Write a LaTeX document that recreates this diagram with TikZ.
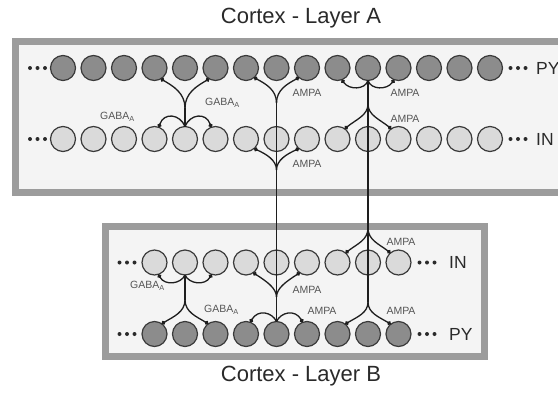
\documentclass[tikz,border=0pt]{standalone}
\usepackage{fontspec}
\setmainfont{Liberation Sans}
\usetikzlibrary{arrows.meta}
\definecolor{pyfill}{HTML}{8C8C8C}
\definecolor{infill}{HTML}{DADADA}
\definecolor{cellline}{HTML}{3A3A3A}
\definecolor{boxline}{HTML}{9C9C9C}
\definecolor{boxfill}{HTML}{F4F4F4}
\definecolor{axcol}{HTML}{1E1E1E}
\definecolor{lblcol}{HTML}{555555}
\definecolor{txtcol}{HTML}{2A2A2A}
\begin{document}
\begin{tikzpicture}[x=1pt,y=-1pt,
  cell/.style={circle,draw=cellline,line width=1.2pt,minimum size=25pt,inner sep=0pt,outer sep=0pt},
  pycell/.style={cell,fill=pyfill},
  incell/.style={cell,fill=infill},
  layerbox/.style={draw=boxline,fill=boxfill,line width=7pt},
  axon/.style={draw=axcol,line width=1.3pt},
  syn/.style={axon,-{Circle[length=4pt,width=4pt]}},
  lbl/.style={font=\fontsize{10.5}{12}\selectfont,text=lblcol,inner sep=0pt},
  rowlbl/.style={font=\fontsize{17.5}{20}\selectfont,text=txtcol,inner sep=0pt,anchor=west},
  ttl/.style={font=\fontsize{22}{26}\selectfont,text=txtcol,inner sep=0pt},
  ell/.style={fill=txtcol}
]
\clip (0,0) rectangle (558,392);
\fill[white] (0,0) rectangle (558,392);
% layer boxes
\draw[layerbox] (15.5,41.5) rectangle (575,192);
\draw[layerbox] (105,226.5) rectangle (484,356.5);
% titles
\node[ttl] (titleA) at (301,18) {Cortex - Layer A};
\node[ttl] (titleB) at (301,376) {Cortex - Layer B};
% cells
\foreach \i in {0,...,14} {
  \node[pycell] (tp\i) at ({63+30.5*\i},68) {};
  \node[incell] (ti\i) at ({63+30.5*\i},139) {};
}
\foreach \i in {3,...,11} {
  \node[incell] (bi\i) at ({63+30.5*\i},262.5) {};
  \node[pycell] (bp\i) at ({63+30.5*\i},334) {};
}
% ellipses
\foreach \y in {68,139} {
  \foreach \x in {30,37.5,45,510.5,518,525.5} { \fill[ell] (\x,\y) circle (2pt); }
}
\foreach \y in {262.5,334} {
  \foreach \x in {119.5,127,134.5,419.5,427,434.5} { \fill[ell] (\x,\y) circle (2pt); }
}
% row labels
\node[rowlbl] (lpyA) at (536,68) {PY};
\node[rowlbl] (linA) at (536,139) {IN};
\node[rowlbl] (linB) at (449,262.5) {IN};
\node[rowlbl] (lpyB) at (449,334) {PY};
% split points
\coordinate (gA) at (185,108);
\coordinate (a1t) at (276.5,103);
\coordinate (a1i) at (276.5,170);
\coordinate (a1b) at (276.5,297);
\coordinate (a2t) at (368,104);
\coordinate (a2u) at (368,228);
\coordinate (a2d) at (368,302);
\coordinate (gB) at (185,300);
% top GABA (IN -> PY, IN)
\draw[axon] (ti4.north) -- (gA);
\draw[syn] (gA) .. controls (185,93) and (173,86) .. (tp3.-60);
\draw[syn] (gA) .. controls (185,93) and (197,86) .. (tp5.-120);
\draw[syn] (ti4.north) .. controls (180,114) and (164,112) .. (ti3.70);
\draw[syn] (ti4.north) .. controls (190,114) and (206,112) .. (ti5.110);
% axon 1 (bottom PY7 -> top)
\draw[axon] (a1t) -- (bp7.north);
\draw[syn] (a1t) .. controls (276.5,90) and (266,84) .. (tp6.-50);
\draw[syn] (a1t) .. controls (276.5,90) and (287,84) .. (tp8.-130);
\draw[syn] (a1i) .. controls (276.5,160) and (266,154) .. (ti6.-50);
\draw[syn] (a1i) .. controls (276.5,160) and (287,154) .. (ti8.-130);
\draw[syn] (a1b) .. controls (276.5,288) and (266,281) .. (bi6.-55);
\draw[syn] (a1b) .. controls (276.5,288) and (287,281) .. (bi8.-125);
\draw[syn] (bp7.north) .. controls (272,312) and (258,309) .. (bp6.70);
\draw[syn] (bp7.north) .. controls (281,312) and (295,309) .. (bp8.110);
% axon 2 (top PY10 -> bottom)
\draw[axon] (tp10.south) -- (a2d);
\draw[syn] (tp10.south) .. controls (365,90) and (349,90) .. (tp9.-70);
\draw[syn] (tp10.south) .. controls (371,90) and (387,90) .. (tp11.-110);
\draw[syn] (a2t) .. controls (368,115) and (357,119) .. (ti9.55);
\draw[syn] (a2t) .. controls (368,115) and (379,119) .. (ti11.125);
\draw[syn] (a2u) .. controls (368,240) and (357,244) .. (bi9.50);
\draw[syn] (a2u) .. controls (368,240) and (379,244) .. (bi11.130);
\draw[syn] (a2d) .. controls (368,313) and (357,317) .. (bp9.52);
\draw[syn] (a2d) .. controls (368,313) and (379,317) .. (bp11.128);
% bottom GABA (IN -> PY, IN)
\draw[axon] (bi4.south) -- (gB);
\draw[syn] (gB) .. controls (185,312) and (173,317) .. (bp3.55);
\draw[syn] (gB) .. controls (185,312) and (197,317) .. (bp5.125);
\draw[syn] (bi4.south) .. controls (181,284) and (165,286) .. (bi3.-72);
\draw[syn] (bi4.south) .. controls (189,284) and (205,286) .. (bi5.-108);
% synapse labels
\node[lbl] (g1) at (117.5,117) {GABA\textsubscript{A}};
\node[lbl] (g2) at (222.5,103) {GABA\textsubscript{A}};
\node[lbl] (g3) at (147.5,286) {GABA\textsubscript{A}};
\node[lbl] (g4) at (221.5,310) {GABA\textsubscript{A}};
\node[lbl] (m1) at (307,92.5) {AMPA};
\node[lbl] (m2) at (405,92.5) {AMPA};
\node[lbl] (m3) at (405,119) {AMPA};
\node[lbl] (m4) at (307,163.5) {AMPA};
\node[lbl] (m5) at (401,241.5) {AMPA};
\node[lbl] (m6) at (307,290) {AMPA};
\node[lbl] (m7) at (322,311) {AMPA};
\node[lbl] (m8) at (401,311) {AMPA};
\end{tikzpicture}
\end{document}
